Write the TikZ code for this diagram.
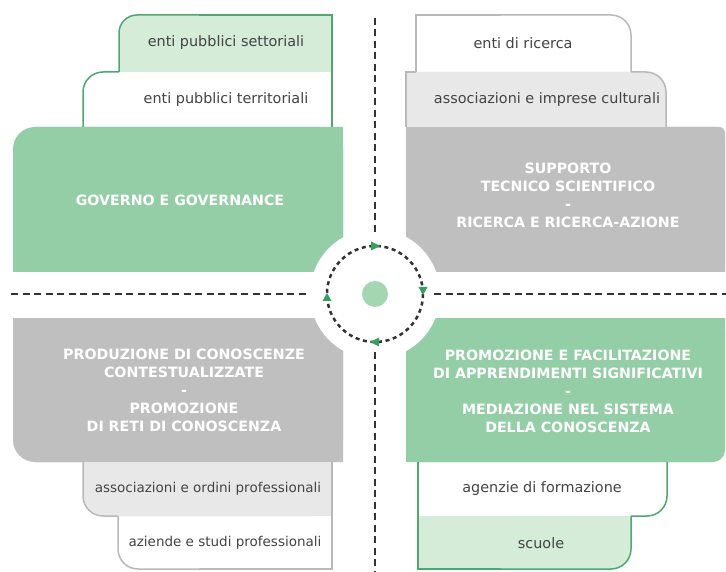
\documentclass[tikz,border=0pt]{standalone}
\usepackage{fontspec}
\setmainfont{DejaVu Sans}
\definecolor{gFill}{RGB}{148,206,167}
\definecolor{gLight}{RGB}{212,236,216}
\definecolor{gLine}{RGB}{76,170,110}
\definecolor{grFill}{RGB}{191,191,191}
\definecolor{grLight}{RGB}{232,232,232}
\definecolor{grLine}{RGB}{185,185,185}
\definecolor{dashc}{RGB}{51,51,51}
\definecolor{arrG}{RGB}{52,160,95}
\definecolor{centG}{RGB}{165,214,178}
\definecolor{txt}{RGB}{68,68,68}
\tikzset{
  small/.style={text=txt,font=\fontsize{14.4}{17}\selectfont,inner sep=0pt},
  smallb/.style={text=txt,font=\fontsize{13.5}{16}\selectfont,inner sep=0pt},
  big/.style={text=white,align=center,font=\fontsize{14.2}{18}\selectfont\bfseries,inner sep=0pt},
  gstroke/.style={draw=gLine,line width=1.5pt},
  grstroke/.style={draw=grLine,line width=1.5pt},
  axis/.style={draw=dashc,line width=2.2pt,dash pattern=on 7pt off 4.5pt},
  ring/.style={draw=dashc,line width=2.5pt,dash pattern=on 4pt off 3.6pt},
}
\begin{document}
\begin{tikzpicture}[x=1pt,y=-1pt]
\useasboundingbox (0,0) rectangle (726,572);
\fill[white] (0,0) rectangle (726,572);
% ---------- big boxes
\fill[gFill,rounded corners=22] (13,127) rectangle (343,272);
\fill[gFill] (35,127) rectangle (343,272) (13,150) rectangle (343,272);
\fill[grFill,rounded corners=6] (406,127) rectangle (725,272);
\fill[grFill] (406,127) rectangle (715,272) (406,137) rectangle (725,272);
\fill[grFill,rounded corners=22] (13,318) rectangle (343,462);
\fill[grFill] (13,318) rectangle (343,440) (35,318) rectangle (343,462);
\fill[gFill,rounded corners=12] (406,318) rectangle (725,462);
\fill[gFill] (406,318) rectangle (725,450) (406,318) rectangle (713,462);
% ---------- TL tabs
\fill[gLight,rounded corners=18] (119,15) rectangle (332,72);
\fill[gLight] (137,15) rectangle (332,72) (119,33) rectangle (332,72);
\draw[gstroke,rounded corners=20] (83,127) -- (83,72) -- (119,72);
\draw[gstroke,rounded corners=18] (119,72) -- (119,15) -- (200,15);
\draw[gstroke] (199,15) -- (332,15) -- (332,127);
% ---------- TR tabs
\fill[grLight,rounded corners=20] (406,72) rectangle (666,127);
\fill[grLight] (406,72) rectangle (646,127) (406,92) rectangle (666,127);
\draw[grstroke] (406,127) -- (406,72) -- (416,72);
\draw[grstroke,rounded corners=20] (631,72) -- (666,72) -- (666,127);
\draw[grstroke] (416,72) -- (416,15) -- (501,15);
\draw[grstroke,rounded corners=20] (500,15) -- (631,15) -- (631,72);
% ---------- BL tabs
\fill[grLight,rounded corners=20] (83,462) rectangle (332,516);
\fill[grLight] (83,462) rectangle (332,496) (103,462) rectangle (332,516);
\draw[grstroke,rounded corners=20] (83,462) -- (83,516) -- (118,516);
\draw[grstroke,rounded corners=20] (118,516) -- (118,569) -- (200,569);
\draw[grstroke] (199,569) -- (332,569) -- (332,462);
% ---------- BR tabs
\fill[gLight,rounded corners=20] (418,516) rectangle (631,569);
\fill[gLight] (418,516) rectangle (631,549) (418,516) rectangle (611,569);
\draw[gstroke,rounded corners=20] (631,516) -- (667,516) -- (667,462);
\draw[gstroke] (418,462) -- (418,569) -- (501,569);
\draw[gstroke,rounded corners=20] (500,569) -- (631,569) -- (631,516);
% ---------- centre
\fill[white] (375,294) circle[radius=65];
\coordinate (ctop) at (375,18);
\coordinate (ctopE) at (375,236);
\coordinate (cbotS) at (375,352);
\coordinate (cbot) at (375,572);
\coordinate (cleft) at (11,294);
\coordinate (cleftE) at (310,294);
\coordinate (crightS) at (434,294);
\coordinate (cright) at (726,294);
\draw[axis] (ctop) -- (ctopE);
\draw[axis] (cbotS) -- (cbot);
\draw[axis] (cleft) -- (cleftE);
\draw[axis] (crightS) -- (cright);
\draw[ring] (375,294) circle[radius=48];
\fill[centG] (375,294) circle[radius=13];
\fill[arrG] (380,246) -- (371,241.5) -- (371,250.5) -- cycle;
\fill[arrG] (423,295) -- (418.5,287) -- (427.5,287) -- cycle;
\fill[arrG] (370,342) -- (379,337.5) -- (379,346.5) -- cycle;
\fill[arrG] (327,293) -- (322.5,301) -- (331.5,301) -- cycle;
% ---------- texts
\node[small] (t1) at (226,43) {enti pubblici settoriali};
\node[small] (t2) at (226,100) {enti pubblici territoriali};
\node[big] (b1) at (180,200) {GOVERNO E GOVERNANCE};
\node[small] (t3) at (523,43) {enti di ricerca};
\node[small] (t4) at (547,100) {associazioni e imprese culturali};
\node[big] (b2) at (568,195) {SUPPORTO\\TECNICO SCIENTIFICO\\-\\RICERCA E RICERCA-AZIONE};
\node[big] (b3) at (184,390) {PRODUZIONE DI CONOSCENZE\\CONTESTUALIZZATE\\-\\PROMOZIONE\\DI RETI DI CONOSCENZA};
\node[smallb] (t5) at (208,489) {associazioni e ordini professionali};
\node[smallb] (t6) at (225,543) {aziende e studi professionali};
\node[big] (b4) at (568,391) {PROMOZIONE E FACILITAZIONE\\DI APPRENDIMENTI SIGNIFICATIVI\\-\\MEDIAZIONE NEL SISTEMA\\DELLA CONOSCENZA};
\node[small] (t7) at (542,489) {agenzie di formazione};
\node[small] (t8) at (541,543) {scuole};
\end{tikzpicture}
\end{document}
